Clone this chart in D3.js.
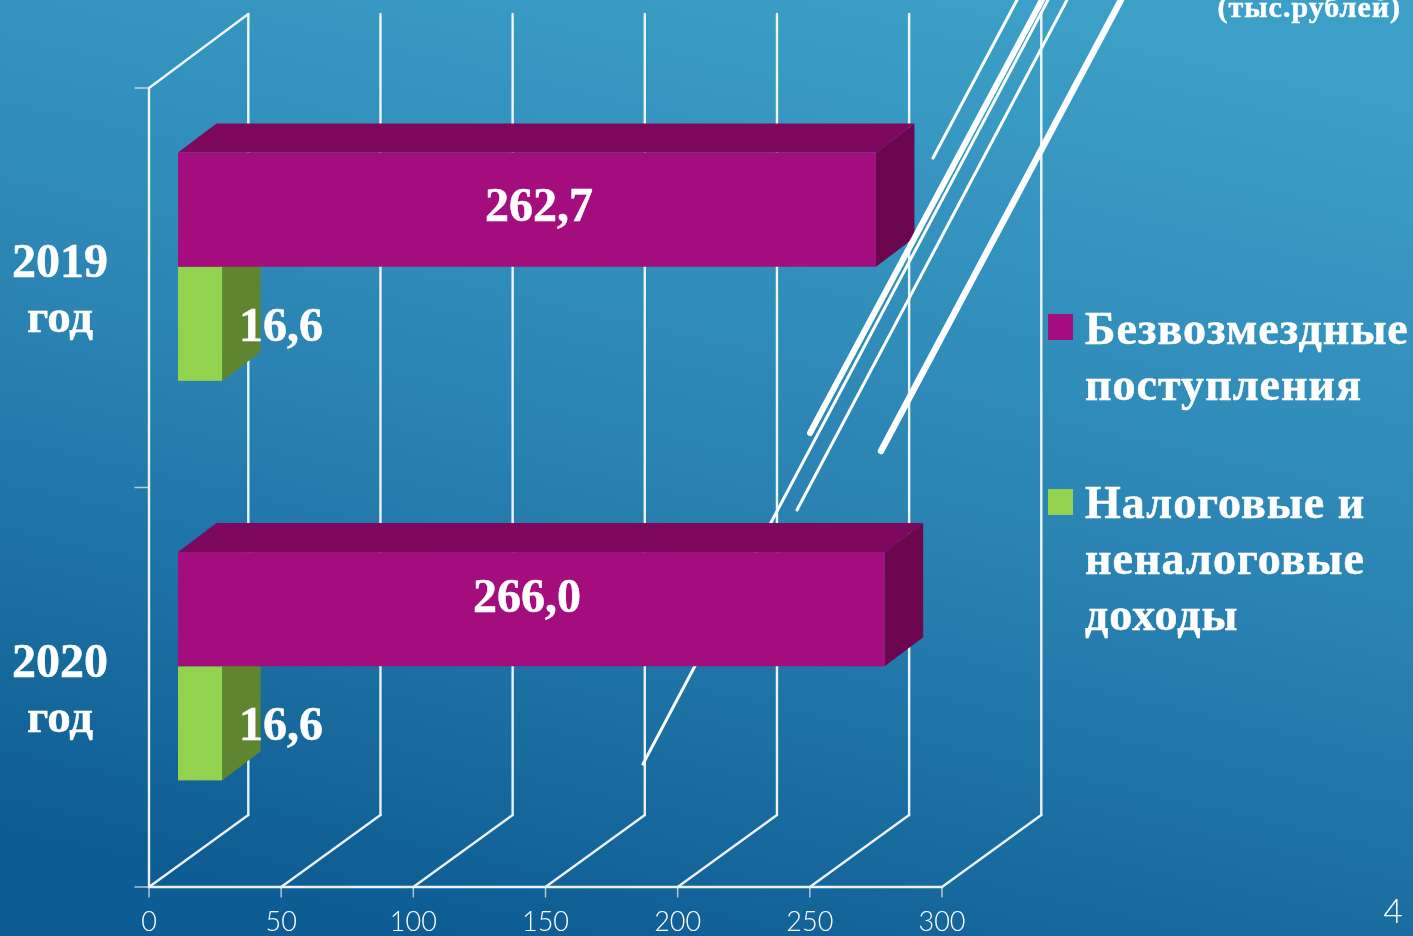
<!DOCTYPE html>
<html>
<head>
<meta charset="utf-8">
<script src="https://cdn.jsdelivr.net/npm/d3@7"></script>
<style>
html, body { margin: 0; padding: 0; overflow: hidden; }
text { fill: #fff; }
.serif { font-family: "Liberation Serif", serif; font-weight: bold; stroke: #fff; stroke-width: 0.5px; }
.tick-label { font-family: Lato, "Open Sans", sans-serif; font-weight: 300; font-size: 27px; }
</style>
</head>
<body>
<div id="chart"></div>
<script>
var years = ["2019", "2020"];
var seriesNames = ["Безвозмездные поступления", "Налоговые и неналоговые доходы"];
var grants = [262.7, 266.0];
var taxes = [16.6, 16.6];
var valueTicks = [0, 50, 100, 150, 200, 250, 300];

// decorative white strokes of the slide template: [x1, y1, x2, y2, width]
var strokesBehind = [[643, 764, 1048, 0, 3]];
var strokesFront = [
    [933, 158, 1017, 0, 3],
    [810, 433, 1042, 0, 6],
    [797, 510, 1067, 0, 3],
    [881, 451, 1121, 0, 6.5]
];

var width = 1413, height = 936;
var depthX = 99.3, depthY = 72;   // wall offset
var barDepthX = 38.5, barDepthY = 29;

var svg = d3.select("#chart").append("svg")
    .attr("width", width)
    .attr("height", height)
    .style("display", "block");

var grad = svg.append("defs").append("linearGradient")
    .attr("id", "bg")
    .attr("gradientUnits", "userSpaceOnUse")
    .attr("x1", 820).attr("y1", -30)
    .attr("x2", 590).attr("y2", 966);
grad.append("stop").attr("offset", "0").attr("stop-color", "#3c9fc7");
grad.append("stop").attr("offset", "0.5").attr("stop-color", "#2a83b3");
grad.append("stop").attr("offset", "1").attr("stop-color", "#0d5c93");

svg.append("rect").attr("width", width).attr("height", height).attr("fill", "url(#bg)");

var x = d3.scaleLinear().domain([0, 300]).range([149, 942]);
var barX = d3.scaleLinear().domain([0, 300]).range([178, 975]);
var y = d3.scaleBand().domain(years).range([88, 887]);
var inner = d3.scaleBand().domain(seriesNames).range([0, y.bandwidth()]).paddingOuter(0.75).paddingInner(0);
var barShift = -21;

function line(parent, x1, y1, x2, y2, w) {
    return parent.append("line")
        .attr("x1", x1).attr("y1", y1).attr("x2", x2).attr("y2", y2)
        .attr("stroke", "#fff").attr("stroke-width", w)
        .attr("stroke-linecap", "round");
}

// grid
var grid = svg.append("g").attr("opacity", 0.92);
valueTicks.forEach(function (d) {
    line(grid, x(d), 887, x(d) + depthX, 887 - depthY, 2.4);
    line(grid, x(d) + depthX, 887 - depthY, x(d) + depthX, 14, 2.4);
    line(grid, x(d), 887, x(d), 897, 1.5).attr("opacity", 0.7);
});
line(grid, x(0), 88, x(0), 887, 2.4);
line(grid, x(0), 88, x(0) + depthX, 14, 2.4);
line(grid, x(0), 887, x(300), 887, 2.4);
years.concat(["end"]).forEach(function (d) {
    var yy = d === "end" ? 887 : y(d);
    line(grid, 135, yy, x(0), yy, 1.5).attr("opacity", 0.7);
});

strokesBehind.forEach(function (s) { line(svg, s[0], s[1], s[2], s[3], s[4]); });

function poly(pts, color) {
    svg.append("polygon")
        .attr("points", pts.map(function (p) { return p.join(","); }).join(" "))
        .attr("fill", color);
}

function bar3d(value, top, h, front, upper, side) {
    var x0 = barX(0), x1 = barX(value);
    poly([[x1, top], [x1 + barDepthX, top - barDepthY], [x1 + barDepthX, top + h - barDepthY], [x1, top + h]], side);
    poly([[x0, top], [x0 + barDepthX, top - barDepthY], [x1 + barDepthX, top - barDepthY], [x1, top]], upper);
    svg.append("rect").attr("x", x0).attr("y", top).attr("width", x1 - x0).attr("height", h).attr("fill", front);
}

// green bar first, the purple one sits on top of it
years.forEach(function (yr, i) {
    var t0 = y(yr) + inner(seriesNames[0]) + barShift;
    var t1 = y(yr) + inner(seriesNames[1]) + barShift;
    bar3d(taxes[i], t1, inner.bandwidth(), "#92d24f", "#6f9a3a", "#5f8530");
    bar3d(grants[i], t0, inner.bandwidth(), "#a30d7e", "#7f085f", "#6b064f");
});

strokesFront.forEach(function (s) { line(svg, s[0], s[1], s[2], s[3], s[4]); });

// value labels
var grantLabelX = [539, 527];
var grantLabelY = [221, 612];
var taxLabelY = [341, 740];
years.forEach(function (yr, i) {
    svg.append("text").attr("class", "serif").attr("x", grantLabelX[i]).attr("y", grantLabelY[i])
        .attr("text-anchor", "middle").attr("font-size", 48)
        .text(grants[i].toFixed(1).replace(".", ","));
    svg.append("text").attr("class", "serif").attr("x", 281).attr("y", taxLabelY[i])
        .attr("text-anchor", "middle").attr("font-size", 48)
        .text(taxes[i].toFixed(1).replace(".", ","));
    svg.append("text").attr("class", "serif").attr("x", 60).attr("y", y(yr) + 189)
        .attr("text-anchor", "middle").attr("font-size", 48).text(yr);
    svg.append("text").attr("class", "serif").attr("x", 60).attr("y", y(yr) + 244)
        .attr("text-anchor", "middle").attr("font-size", 47).text("год");
});

// axis labels
valueTicks.forEach(function (d) {
    svg.append("text").attr("class", "tick-label").attr("x", x(d)).attr("y", 931)
        .attr("text-anchor", "middle").text(d);
});

// legend
var legendColors = ["#a30d7e", "#92d24f"];
var legendLines = [["Безвозмездные", "поступления"], ["Налоговые и", "неналоговые", "доходы"]];
var legendTop = [314, 489];
var legendBase = [344, 518];
seriesNames.forEach(function (s, i) {
    svg.append("rect").attr("x", 1048).attr("y", legendTop[i]).attr("width", 25).attr("height", 26)
        .attr("fill", legendColors[i]);
    legendLines[i].forEach(function (t, j) {
        svg.append("text").attr("class", "serif").attr("x", 1085).attr("y", legendBase[i] + j * 56)
            .attr("font-size", 46).attr("letter-spacing", 1.05).text(t);
    });
});

svg.append("text").attr("class", "serif").attr("x", 1401).attr("y", 16.5)
    .attr("text-anchor", "end").attr("font-size", 30).attr("letter-spacing", 1).text("(тыс.рублей)");
svg.append("text").attr("class", "tick-label").attr("x", 1393).attr("y", 923)
    .attr("text-anchor", "middle").style("font-size", "34px").text("4");
</script>
</body>
</html>
